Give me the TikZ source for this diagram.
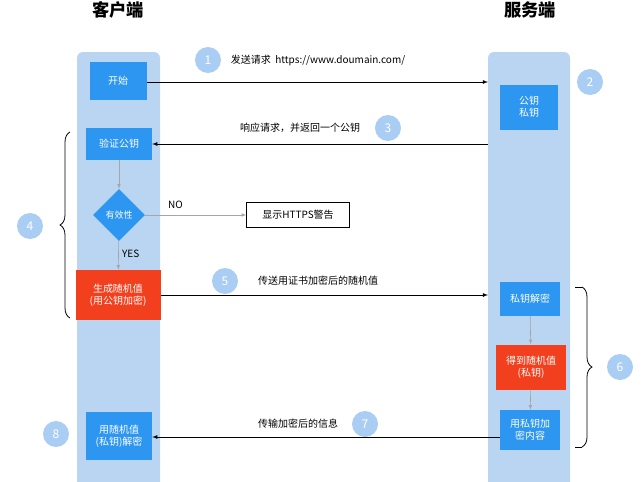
\documentclass[tikz,border=0pt]{standalone}
\usepackage{fontspec}
\setmainfont{Noto Sans CJK SC}
\usetikzlibrary{shapes.geometric,decorations.pathreplacing}
\definecolor{lane}{HTML}{B9D5F2}
\definecolor{boxblue}{HTML}{2C96F0}
\definecolor{boxred}{HTML}{F2401F}
\definecolor{numc}{HTML}{A9CDF3}
\tikzset{
  bluebox/.style={fill=boxblue, text=white, align=center, font=\normalsize, inner sep=2pt},
  redbox/.style={fill=boxred, text=white, align=center, font=\normalsize, inner sep=2pt},
  num/.style={circle, fill=numc, text=white, minimum size=26pt, inner sep=0pt, font=\large},
  msg/.style={-latex, thick},
  stepline/.style={-latex, gray!70, semithick},
  lbl/.style={font=\normalsize}
}
\begin{document}
\begin{tikzpicture}[x=1pt,y=-1pt]
\useasboundingbox (0,0) rectangle (643,482);

% lanes
\fill [lane, rounded corners=6pt] (77,52) rectangle (160,490);
\fill [lane, rounded corners=6pt] (488,52) rectangle (570,490);
\node [font=\LARGE\bfseries] (client) at (118,10) {客户端};
\node [font=\LARGE\bfseries] (server) at (530,10) {服务端};

% client side
\node [bluebox, minimum width=57pt, minimum height=38pt] (start) at (118,81) {开始};
\node [bluebox, minimum width=66pt, minimum height=32pt] (verify) at (119,144) {验证公钥};
\node [diamond, fill=boxblue, text=white, font=\small, inner sep=0pt, minimum width=52pt, minimum height=52pt] (valid) at (119,215) {有效性};
\node [draw, font=\normalsize, minimum width=103pt, minimum height=25pt] (warn) at (298,215) {显示HTTPS警告};
\node [redbox, minimum width=85pt, minimum height=50pt] (gen) at (118,295) {生成随机值\\(用公钥加密)};
\node [bluebox, minimum width=66pt, minimum height=48pt] (dec) at (119,436) {用随机值\\(私钥)解密};

% server side
\node [bluebox, minimum width=58pt, minimum height=45pt] (keys) at (529,107) {公钥\\私钥};
\node [bluebox, minimum width=60pt, minimum height=34pt] (priv) at (530,299) {私钥解密};
\node [redbox, minimum width=70pt, minimum height=45pt] (got) at (531,367) {得到随机值\\(私钥)};
\node [bluebox, minimum width=60pt, minimum height=40pt] (enc) at (530,430) {用私钥加\\密内容};

% messages
\coordinate (s1) at (488,82);
\coordinate (s3) at (488,144);
\coordinate (s5) at (488,295);
\coordinate (s7) at (500,437);
\draw [msg] (start.east |- s1) -- (s1);
\draw [msg] (s3) -- (verify.east |- s3);
\draw [msg] (gen.east |- s5) -- (s5);
\draw [msg] (enc.west |- s7) -- (dec.east |- s7);

\node [lbl] (t1) at (318,60) {发送请求\ \ https://www.doumain.com/};
\node [lbl] (t3) at (300,128) {响应请求，并返回一个公钥};
\node [lbl] (t5) at (318,281) {传送用证书加密后的随机值};
\node [lbl] (t7) at (298,424) {传输加密后的信息};

% inner steps
\draw [stepline] (verify) -- (valid);
\draw [stepline] (valid) -- (warn) node [pos=.3, above=3pt, font=\normalsize, black] {NO};
\draw [stepline] (valid) -- (gen) node [pos=.45, right, font=\normalsize, black] {YES};
\draw [stepline] (priv) -- (got);
\draw [stepline] (got) -- (enc);

% braces
\draw [thick, decorate, decoration={brace, amplitude=10pt}] (70,318) -- (70,132);
\draw [thick, decorate, decoration={brace, amplitude=10pt}] (582,287) -- (582,447) ;
\draw [thick] (582,287) -- (575,287);
\draw [thick] (582,447) -- (575,447);

% numbers
\node [num] (n1) at (208,60) {1};
\node [num] (n2) at (590,82) {2};
\node [num] (n3) at (388,128) {3};
\node [num] (n4) at (30,226) {4};
\node [num] (n5) at (225,281) {5};
\node [num] (n6) at (620,367) {6};
\node [num] (n7) at (365,424) {7};
\node [num] (n8) at (56,434) {8};

\end{tikzpicture}
\end{document}
